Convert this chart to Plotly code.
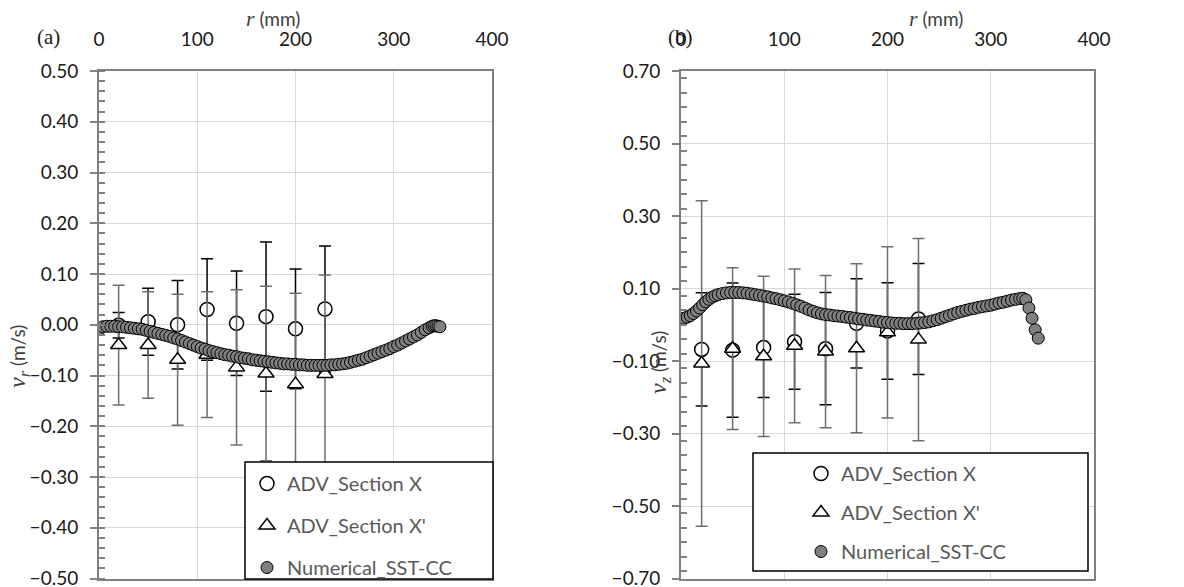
import plotly.graph_objects as go

# ---------------- data ----------------
r_adv = [20, 50, 80, 110, 140, 170, 200, 230]

# (a) radial velocity v_r (m/s)
vr_X = [-0.001, 0.006, 0.000, 0.030, 0.003, 0.016, -0.008, 0.031]
vr_X_err = [0.025, 0.066, 0.087, 0.100, 0.103, 0.147, 0.118, 0.124]
vr_Xp = [-0.040, -0.040, -0.069, -0.059, -0.084, -0.096, -0.117, -0.097]
vr_Xp_err = [0.118, 0.105, 0.129, 0.124, 0.153, 0.172, 0.179, 0.195]

r_num_a = [0, 4, 8, 12, 16, 20, 24, 28, 32, 36, 40, 44, 48, 52, 56, 60, 64, 68, 72, 76,
           80, 84, 88, 92, 96, 100, 104, 108, 112, 116, 120, 124, 128, 132, 136, 140, 144,
           148, 152, 156, 160, 164, 168, 172, 176, 180, 184, 188, 192, 196, 200, 204, 208,
           212, 216, 220, 224, 228, 232, 236, 240, 244, 248, 252, 256, 260, 264, 268, 272,
           276, 280, 284, 288, 292, 296, 300, 304, 308, 312, 316, 320, 324, 328, 332, 336,
           339, 341, 343, 345, 347]
vr_num = [-0.009, -0.004, -0.003, -0.003, -0.003, -0.004, -0.004, -0.005, -0.006, -0.007,
          -0.008, -0.009, -0.011, -0.013, -0.015, -0.017, -0.019, -0.021, -0.023, -0.026,
          -0.028, -0.031, -0.034, -0.037, -0.040, -0.043, -0.046, -0.048, -0.051, -0.053,
          -0.055, -0.057, -0.059, -0.060, -0.062, -0.063, -0.065, -0.066, -0.067, -0.069,
          -0.070, -0.071, -0.072, -0.073, -0.074, -0.075, -0.076, -0.077, -0.077, -0.078,
          -0.078, -0.079, -0.079, -0.080, -0.080, -0.080, -0.080, -0.080, -0.080, -0.079,
          -0.079, -0.078, -0.077, -0.076, -0.074, -0.072, -0.070, -0.068, -0.065, -0.062,
          -0.059, -0.056, -0.053, -0.050, -0.047, -0.043, -0.040, -0.036, -0.032, -0.028,
          -0.024, -0.020, -0.015, -0.010, -0.006, -0.003, -0.002, -0.002, -0.003, -0.004]

# (b) axial velocity v_z (m/s)
vz_X = [-0.068, -0.070, -0.063, -0.047, -0.066, 0.004, -0.017, 0.016]
vz_X_err = [0.156, 0.185, 0.138, 0.131, 0.155, 0.123, 0.133, 0.153]
vz_Xp = [-0.107, -0.066, -0.087, -0.058, -0.074, -0.065, -0.021, -0.041]
vz_Xp_err = [0.449, 0.223, 0.221, 0.212, 0.210, 0.233, 0.236, 0.279]

r_num_b = [0, 3, 6, 9, 12, 15, 18, 21, 24, 27, 30, 33, 36, 40, 44, 48, 52, 56, 60, 64, 68,
           72, 76, 80, 84, 88, 92, 96, 100, 104, 108, 112, 116, 120, 124, 128, 132, 136,
           140, 144, 148, 152, 156, 160, 164, 168, 172, 176, 180, 184, 188, 192, 196, 200,
           204, 208, 212, 216, 220, 224, 228, 232, 236, 240, 244, 248, 252, 256, 260, 264,
           268, 272, 276, 280, 284, 288, 292, 296, 300, 304, 308, 312, 316, 320, 324, 328,
           331, 334, 337, 340, 343, 346]
vz_num = [0.014, 0.018, 0.021, 0.025, 0.031, 0.038, 0.046, 0.055, 0.063, 0.070, 0.076,
          0.080, 0.083, 0.086, 0.088, 0.089, 0.089, 0.089, 0.088, 0.087, 0.085, 0.083,
          0.081, 0.079, 0.077, 0.074, 0.072, 0.069, 0.066, 0.063, 0.059, 0.055, 0.051,
          0.046, 0.041, 0.037, 0.033, 0.030, 0.028, 0.027, 0.025, 0.024, 0.023, 0.021,
          0.020, 0.018, 0.016, 0.015, 0.013, 0.012, 0.010, 0.009, 0.007, 0.006, 0.005,
          0.004, 0.004, 0.003, 0.003, 0.003, 0.004, 0.005, 0.006, 0.008, 0.011, 0.014,
          0.018, 0.022, 0.026, 0.030, 0.034, 0.037, 0.040, 0.043, 0.045, 0.048, 0.050,
          0.052, 0.054, 0.057, 0.060, 0.062, 0.065, 0.068, 0.070, 0.072, 0.073, 0.069,
          0.046, 0.018, -0.014, -0.037]

x_ticks = [0, 100, 200, 300, 400]

names = ["ADV_Section X", "ADV_Section X'", "Numerical_SST-CC"]

# ---------------- style ----------------
FONT = "Lato, 'Open Sans', sans-serif"
AX = "#808080"
GRID = "#d9d9d9"
OFF = 8                     # page body margin in the browser
W, H = 1184 - OFF, 587 - OFF

def px_x(p):
    return (p - OFF) / W

def px_y(p):
    return 1 - (p - OFF) / H

XD_A = [px_x(99), px_x(492)]
XD_B = [px_x(681), px_x(1094)]
YD = [px_y(578.5), px_y(71)]
ZERO_POS = (YD[0] + YD[1]) / 2

fig = go.Figure()

def add_panel(xa, ya, legend, r_num, v_num, vX, eX, vXp, eXp):
    fig.add_trace(go.Scatter(
        x=r_adv, y=vX, mode="markers", name=names[0], xaxis=xa, yaxis=ya,
        legend=legend, legendgroup=legend + "a",
        marker=dict(symbol="circle", size=14, color="white",
                    line=dict(color="black", width=1.5)),
        error_y=dict(type="data", array=eX, visible=True, color="black",
                     thickness=1.5, width=6)))
    fig.add_trace(go.Scatter(
        x=r_adv, y=vXp, mode="markers", name=names[1], xaxis=xa, yaxis=ya,
        legend=legend, legendgroup=legend + "b",
        marker=dict(symbol="triangle-up", size=14, color="white",
                    line=dict(color="black", width=1.5)),
        error_y=dict(type="data", array=eXp, visible=True, color="#6e6e6e",
                     thickness=1.5, width=6)))
    fig.add_trace(go.Scatter(
        x=r_num, y=v_num, mode="markers", name=names[2], xaxis=xa, yaxis=ya,
        legend=legend, legendgroup=legend + "c",
        marker=dict(symbol="circle", size=12, color="#808080",
                    line=dict(color="black", width=1))))

add_panel("x", "y", "legend", r_num_a, vr_num, vr_X, vr_X_err, vr_Xp, vr_Xp_err)
add_panel("x2", "y2", "legend2", r_num_b, vz_num, vz_X, vz_X_err, vz_Xp, vz_Xp_err)

tickfont = dict(family=FONT, size=19, color="#1a1a1a")

def xmain(domain, anchor):
    return dict(domain=domain, anchor=anchor, range=[0, 400], side="top",
                tickvals=x_ticks, ticks="", showgrid=True, gridcolor=GRID,
                gridwidth=1.2, showline=True, linecolor=AX, linewidth=1.5,
                mirror=True, zeroline=False, tickfont=tickfont,
                ticklabelstandoff=16, ticklabeloverflow="allow",
                fixedrange=True)

def xzero(domain, overlay, direction):
    return dict(domain=domain, overlaying=overlay, anchor="free",
                position=ZERO_POS, range=[0, 400], side="bottom",
                showline=True, linecolor=AX, linewidth=2,
                ticks=direction, ticklen=6, tickwidth=1.5, tickcolor=AX,
                tick0=0, dtick=20, showticklabels=False, showgrid=False,
                zeroline=False)

def ymain(rng, tick0, dtick, minor, anchor):
    return dict(domain=YD, anchor=anchor, range=rng, tick0=tick0, dtick=dtick,
                tickformat=".2f", ticks="outside", ticklen=7, tickwidth=1.5,
                tickcolor=AX, minor=dict(dtick=minor, ticks="inside", ticklen=6,
                                         tickwidth=1.5, tickcolor=AX,
                                         showgrid=False),
                showgrid=True, gridcolor=GRID, gridwidth=1.2, showline=True,
                linecolor=AX, linewidth=2, mirror=True, zeroline=False,
                tickfont=tickfont, ticklabelstandoff=8,
                ticklabeloverflow="allow")

fig.update_layout(
    width=W, height=H,
    margin=dict(l=0, r=0, t=0, b=0, autoexpand=False),
    paper_bgcolor="white", plot_bgcolor="white",
    showlegend=True,
    xaxis=xmain(XD_A, "y"),
    xaxis2=xmain(XD_B, "y2"),
    xaxis3=xzero(XD_A, "x", "outside"),
    xaxis5=xzero(XD_A, "x", "inside"),
    xaxis4=xzero(XD_B, "x2", "outside"),
    xaxis6=xzero(XD_B, "x2", "inside"),
    yaxis=ymain([-0.5, 0.5], 0, 0.1, 0.02, "x"),
    yaxis2=ymain([-0.7, 0.7], 0.1, 0.2, 0.04, "x2"),
    legend=dict(x=px_x(247), y=px_y(464), xanchor="left", yanchor="top",
                bgcolor="rgba(0,0,0,0)", borderwidth=0, tracegroupgap=13,
                font=dict(family=FONT, size=20, color="#595959"),
                itemsizing="trace"),
    legend2=dict(x=px_x(801), y=px_y(454), xanchor="left", yanchor="top",
                 bgcolor="rgba(0,0,0,0)", borderwidth=0, tracegroupgap=10,
                 font=dict(family=FONT, size=20, color="#595959"),
                 itemsizing="trace"),
)

# legend frames (white boxes that hide the lines behind them)
for x0, x1, y0, y1 in [(245, 493, 579, 462), (753, 1088, 571, 453)]:
    fig.add_shape(type="rect", xref="paper", yref="paper", layer="above",
                  x0=px_x(x0), x1=px_x(x1), y0=px_y(y0), y1=px_y(y1),
                  line=dict(color="black", width=1.5), fillcolor="white")

SERIF = "Liberation Serif"
annotations = [
    dict(x=px_x(273), y=px_y(19),
         text=f'<span style="font-family:{SERIF};font-size:22px"><i>r</i></span> (mm)'),
    dict(x=px_x(936), y=px_y(18),
         text=f'<span style="font-family:{SERIF};font-size:22px"><i>r</i></span> (mm)'),
    dict(x=px_x(19), y=px_y(357), textangle=-90,
         text=f'<span style="font-family:{SERIF};font-size:24px"><i>v<sub>r</sub></i></span> (m/s)'),
    dict(x=px_x(660), y=px_y(362), textangle=-90,
         text=f'<span style="font-family:{SERIF};font-size:24px"><i>v<sub>z</sub></i></span> (m/s)'),
]
for a in annotations:
    fig.add_annotation(xref="paper", yref="paper", showarrow=False,
                       xanchor="center", yanchor="middle",
                       font=dict(family=FONT, size=19, color="#404040"), **a)
for txt, xx in [("(a)", 48), ("(b)", 680)]:
    fig.add_annotation(xref="paper", yref="paper", showarrow=False,
                       x=px_x(xx), y=px_y(37), text=txt,
                       xanchor="center", yanchor="middle",
                       font=dict(family=SERIF, size=21, color="#1a1a1a"))

fig.write_html("out.html")
